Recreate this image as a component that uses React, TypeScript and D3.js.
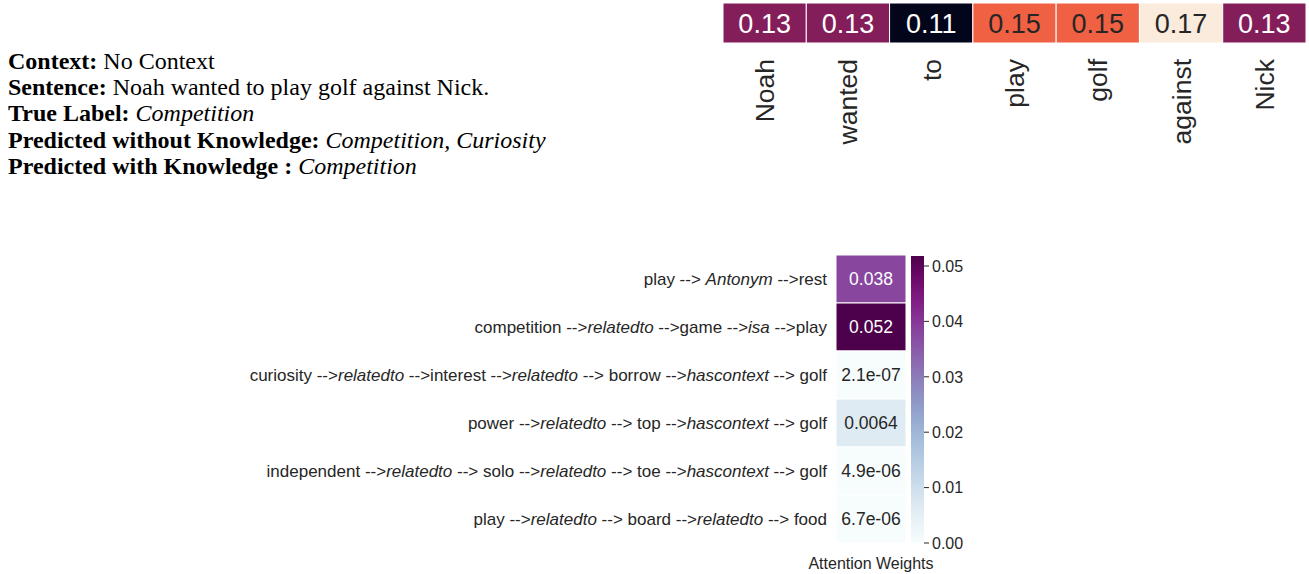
import React from "react";
import * as d3 from "d3";

const tokens = ["Noah", "wanted", "to", "play", "golf", "against", "Nick"];
const tokenWeights = [0.13, 0.13, 0.11, 0.15, 0.15, 0.17, 0.13];

const paths = [
  "play --> *Antonym* -->rest",
  "competition -->*relatedto* -->game -->*isa* -->play",
  "curiosity -->*relatedto* -->interest -->*relatedto* --> borrow -->*hascontext* --> golf",
  "power -->*relatedto* --> top -->*hascontext* --> golf",
  "independent -->*relatedto* --> solo -->*relatedto* --> toe -->*hascontext* --> golf",
  "play -->*relatedto* --> board -->*relatedto* --> food",
];
const pathWeights = [0.038, 0.052, 2.1e-7, 0.0064, 4.9e-6, 6.7e-6];
const pathLabels = ["0.038", "0.052", "2.1e-07", "0.0064", "4.9e-06", "6.7e-06"];
const colorbarTicks = [0, 0.01, 0.02, 0.03, 0.04, 0.05];

const infoLines: [string, string, boolean][] = [
  ["Context:", " No Context", false],
  ["Sentence:", " Noah wanted to play golf against Nick.", false],
  ["True Label:", " Competition", true],
  ["Predicted without Knowledge:", " Competition, Curiosity", true],
  ["Predicted with Knowledge :", " Competition", true],
];

const rocketStops = [
  "#03051a", "#221331", "#4c1d4b", "#701f57", "#a11a5b",
  "#cb1b4f", "#e83f3f", "#f06043", "#f6a47b", "#f7cfb2", "#faebdd",
];

export default function App() {
  const sans = "'Liberation Sans', Arial, sans-serif";
  const serif = "'Liberation Serif', 'Times New Roman', serif";

  // top heatmap
  const topX = d3.scaleBand<string>().domain(tokens).range([723, 1306]);
  const topY0 = 3, topY1 = 43;
  const rocketInterp = d3.piecewise(d3.interpolateRgb, rocketStops);
  const rocketScale = d3
    .scaleSequential((t: number) => rocketInterp(t))
    .domain([d3.min(tokenWeights)!, d3.max(tokenWeights)!]);
  const topColor = (v: number) => {
    const t = (v - 0.11) / 0.06;
    if (Math.abs(t - 1 / 3) < 0.01) return "#841e5a";
    if (Math.abs(t - 2 / 3) < 0.01) return "#f06043";
    return rocketScale(v);
  };

  // bottom heatmap
  const vmax = 0.0518;
  const botY = d3.scaleBand<number>().domain(d3.range(paths.length)).range([255, 543]);
  const cellX0 = 836, cellX1 = 906;
  const bupu = d3.scaleSequential(d3.interpolateBuPu).domain([0, vmax]);
  const cbX0 = 911, cbX1 = 924, cbTop = 256, cbBot = 543;
  const cbY = d3.scaleLinear().domain([0, 0.05]).range([543, 266]);
  const cbScaleTop = cbY.invert(cbTop);
  const gradStops = d3.range(0, 1.0001, 0.05);

  const lum = (c: string) => {
    const rgb = d3.rgb(c);
    return 0.299 * rgb.r + 0.587 * rgb.g + 0.114 * rgb.b;
  };

  const renderPath = (s: string) =>
    s.split("*").map((seg, i) => (
      <tspan key={i} fontStyle={i % 2 === 1 ? "italic" : "normal"}>
        {seg}
      </tspan>
    ));

  return (
    <svg
      width={1309}
      height={574}
      style={{ position: "absolute", left: 0, top: 0, background: "#fff" }}
    >
      <defs>
        <linearGradient id="cbgrad" x1="0" y1="1" x2="0" y2="0">
          {gradStops.map((t) => (
            <stop key={t} offset={t} stopColor={bupu(t * cbScaleTop)} />
          ))}
        </linearGradient>
      </defs>

      {/* info text */}
      {infoLines.map(([b, r, it], i) => (
        <text
          key={i}
          x={8}
          y={69 + i * 26.2}
          fontFamily={serif}
          fontSize={24}
          fill="#000"
          style={{ whiteSpace: "pre" }}
        >
          <tspan fontWeight="bold">{b}</tspan>
          <tspan fontStyle={it ? "italic" : "normal"}>{r}</tspan>
        </text>
      ))}

      {/* top heatmap */}
      {tokens.map((tk, i) => {
        const x = topX(tk)!;
        const w = topX.bandwidth();
        const c = topColor(tokenWeights[i]);
        return (
          <g key={tk}>
            <rect x={x} y={topY0} width={w} height={topY1 - topY0} fill={c} stroke="#fff" strokeWidth={1} />
            <text
              x={x + w / 2}
              y={(topY0 + topY1) / 2}
              dy="0.36em"
              textAnchor="middle"
              fontFamily={sans}
              fontSize={27}
              fill={lum(c) > 128 ? "#262626" : "#fff"}
            >
              {tokenWeights[i].toFixed(2)}
            </text>
            <text
              transform={`translate(${x + w / 2},${59}) rotate(-90)`}
              dy="0.36em"
              textAnchor="end"
              fontFamily={sans}
              fontSize={26.5}
              fill="#262626"
            >
              {tk}
            </text>
          </g>
        );
      })}

      {/* bottom heatmap */}
      {paths.map((p, i) => {
        const y = botY(i)!;
        const h = botY.bandwidth();
        const c = bupu(pathWeights[i]);
        return (
          <g key={i}>
            <rect x={cellX0} y={y} width={cellX1 - cellX0} height={h} fill={c} stroke="#fff" strokeWidth={1} />
            <text
              x={(cellX0 + cellX1) / 2}
              y={y + h / 2}
              dy="0.36em"
              textAnchor="middle"
              fontFamily={sans}
              fontSize={17.5}
              fill={lum(c) > 150 ? "#262626" : "#fff"}
            >
              {pathLabels[i]}
            </text>
            <text
              x={827}
              y={y + h / 2}
              dy="0.36em"
              textAnchor="end"
              fontFamily={sans}
              fontSize={17}
              fill="#262626"
              style={{ whiteSpace: "pre" }}
            >
              {renderPath(p)}
            </text>
          </g>
        );
      })}

      {/* colorbar */}
      <rect x={cbX0} y={cbTop} width={cbX1 - cbX0} height={cbBot - cbTop} fill="url(#cbgrad)" />
      {colorbarTicks.map((t) => (
        <g key={t}>
          <line x1={cbX1} x2={cbX1 + 5} y1={cbY(t)} y2={cbY(t)} stroke="#262626" strokeWidth={1} />
          <text
            x={cbX1 + 8}
            y={cbY(t)}
            dy="0.36em"
            fontFamily={sans}
            fontSize={16}
            fill="#262626"
          >
            {t.toFixed(2)}
          </text>
        </g>
      ))}
      <text
        x={871}
        y={563}
        dy="0.36em"
        textAnchor="middle"
        fontFamily={sans}
        fontSize={16}
        fill="#262626"
      >
        Attention Weights
      </text>
    </svg>
  );
}
